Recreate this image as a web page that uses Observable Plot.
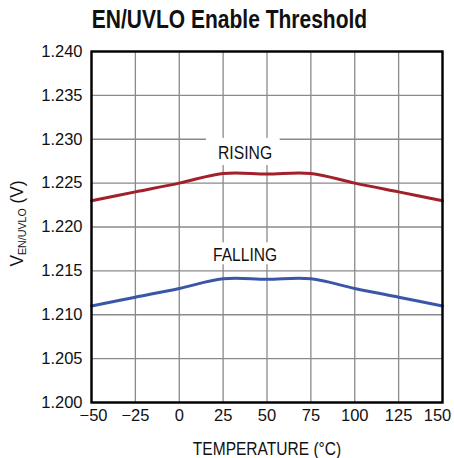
<!DOCTYPE html>
<html>
<head>
<meta charset="utf-8">
<script src="https://cdn.jsdelivr.net/npm/d3@7"></script>
<script src="https://cdn.jsdelivr.net/npm/@observablehq/plot@0.6"></script>
<style>
  html, body { margin: 0; padding: 0; background: #fff; }
  svg { display: block; }
</style>
</head>
<body>
<div id="chart"></div>
<script>
const temperature = [-50, -25, 0, 25, 50, 75, 100, 125, 150];
const rising  = [1.2230, 1.2240, 1.2250, 1.2261, 1.22605, 1.2261, 1.2250, 1.2240, 1.2230];
const falling = [1.2110, 1.2120, 1.2130, 1.2141, 1.21405, 1.2141, 1.2130, 1.2120, 1.2110];
const xTicks = [-50, -25, 0, 25, 50, 75, 100, 125, 150];
const yTicks = [1.200, 1.205, 1.210, 1.215, 1.220, 1.225, 1.230, 1.235, 1.240];
const labels = [
  {text: "RISING", x: 37.5, y: 1.2278, x1: 15.5, x2: 57.5, y1: 1.2270, y2: 1.2301},
  {text: "FALLING", x: 37.5, y: 1.2161, x1: 16.5, x2: 58, y1: 1.2157, y2: 1.2182}
];
const title = "EN/UVLO Enable Threshold";
const xLabel = "TEMPERATURE (°C)";

const risingData = temperature.map((t, i) => ({t, v: rising[i]}));
const fallingData = temperature.map((t, i) => ({t, v: falling[i]}));

const font = '"Liberation Sans", Arial, sans-serif';
const fmt = d3.format(".3f");

const plot = Plot.plot({
  width: 454,
  height: 458,
  marginLeft: 91,
  marginRight: 12,
  marginTop: 51,
  marginBottom: 56,
  style: {fontFamily: font, fontSize: "16.5px", color: "#111", background: "#fff"},
  x: {domain: [-50, 150], label: null, axis: null},
  y: {domain: [1.200, 1.240], label: null, axis: null},
  marks: [
    Plot.gridX(xTicks, {stroke: "#8a8a8a", strokeOpacity: 1, strokeWidth: 1.3}),
    Plot.gridY(yTicks, {stroke: "#8a8a8a", strokeOpacity: 1, strokeWidth: 1.3}),
    Plot.rect(labels, {x1: "x1", x2: "x2", y1: "y1", y2: "y2", fill: "white"}),
    Plot.text(labels, {x: "x", y: "y", text: "text", fontSize: 18.5, lineAnchor: "bottom", fill: "#111"}),
    Plot.line(risingData, {x: "t", y: "v", stroke: "#a1202a", strokeWidth: 3, curve: "catmull-rom"}),
    Plot.line(fallingData, {x: "t", y: "v", stroke: "#3a56a8", strokeWidth: 3, curve: "catmull-rom"}),
    Plot.frame({stroke: "#000", strokeWidth: 2.4}),
    Plot.axisX(xTicks.slice(1, -1), {tickSize: 0, tickPadding: 7, fontSize: 16.5, label: null}),
    Plot.axisX([xTicks[0]], {tickSize: 0, tickPadding: 7, fontSize: 16.5, label: null, dx: 2}),
    Plot.axisX([xTicks[xTicks.length - 1]], {tickSize: 0, tickPadding: 7, fontSize: 16.5, label: null, dx: -5}),
    Plot.axisY(yTicks, {tickSize: 0, tickPadding: 9, fontSize: 16.5, tickFormat: fmt, label: null}),
    Plot.text([xLabel], {frameAnchor: "bottom", dy: 52, fontSize: 18.5, lineAnchor: "bottom", fill: "#111"}),
    Plot.text([title], {frameAnchor: "top", dx: 229 - 266.5, dy: -24, fontSize: 25, fontWeight: "bold", lineAnchor: "bottom", fill: "#111"})
  ]
});

document.getElementById("chart").appendChild(plot);

// horizontally condense the label texts (narrow typeface look)
const condensed = {"RISING": 0.85, "FALLING": 0.84, [xLabel]: 0.84, [title]: 0.84};
d3.select(plot).selectAll("text").each(function () {
  const s = condensed[this.textContent];
  if (!s) return;
  const t = this.getAttribute("transform");
  if (t) {
    this.setAttribute("transform", t + ` scale(${s},1)`);
  } else {
    const x = +(this.getAttribute("x") || 0), y = +(this.getAttribute("y") || 0);
    this.removeAttribute("x"); this.removeAttribute("y");
    this.setAttribute("transform", `translate(${x},${y}) scale(${s},1)`);
  }
});

// rotated y label with subscript
const ylab = d3.select(plot).append("text")
  .attr("transform", "translate(23,223.5) rotate(-90) scale(0.93,1)")
  .attr("text-anchor", "middle")
  .attr("font-family", font)
  .attr("fill", "#111");
ylab.append("tspan").attr("font-size", 18.5).text("V");
ylab.append("tspan").attr("font-size", 11.5).attr("dy", 3).text("EN/UVLO");
ylab.append("tspan").attr("font-size", 18.5).attr("dy", -3).text(" (V)");
</script>
</body>
</html>
